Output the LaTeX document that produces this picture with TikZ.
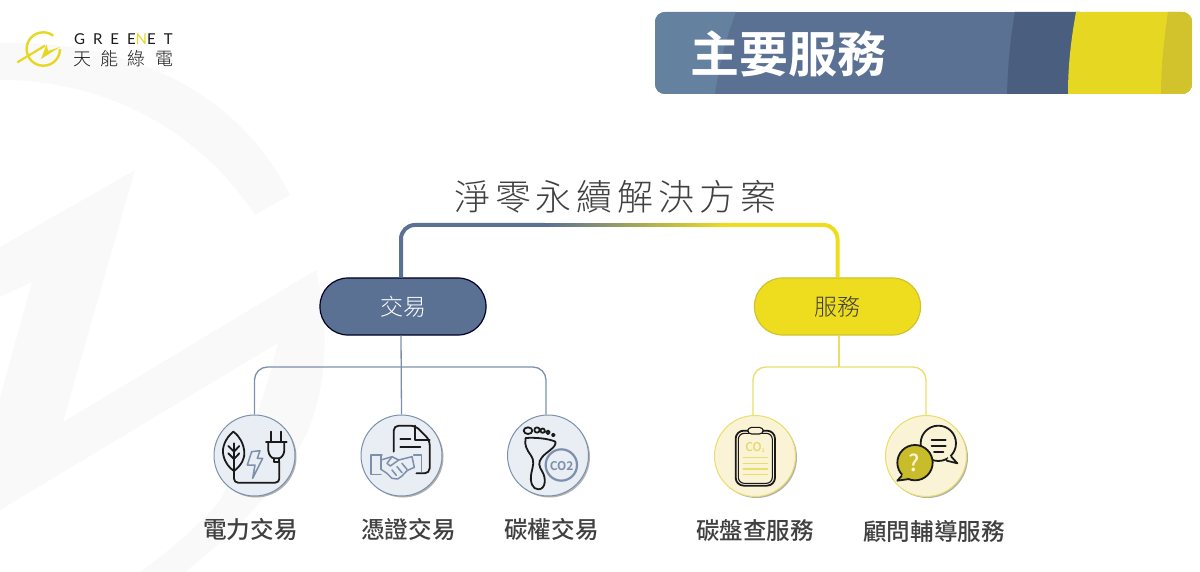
\documentclass[tikz,border=0pt]{standalone}
\usepackage{fontspec}
\setmainfont[UprightFont=* Medium,BoldFont=* Bold]{Noto Sans CJK TC}
\newfontfamily\lightcjk[UprightFont=* Light]{Noto Sans CJK TC}
\newfontfamily\spacedcjk[UprightFont=* Light,LetterSpace=13.5]{Noto Sans CJK TC}
\newfontfamily\logolatin[LetterSpace=53]{Lato}
\newfontfamily\logocjk[UprightFont=* Light,LetterSpace=52]{Noto Sans CJK TC}
\usetikzlibrary{shadows}
\definecolor{bluemain}{HTML}{5A7194}
\definecolor{bluelight}{HTML}{64819F}
\definecolor{bluedark}{HTML}{4A5F7F}
\definecolor{bluepale}{HTML}{E9EDF4}
\definecolor{blueedge}{HTML}{7D90AB}
\definecolor{yellowmain}{HTML}{E6D822}
\definecolor{yellowdark}{HTML}{D2C22C}
\definecolor{yellowpill}{HTML}{EEDD1F}
\definecolor{yellowpale}{HTML}{FBF3D5}
\definecolor{yellowedge}{HTML}{E8DE6A}
\definecolor{olive}{HTML}{C8BC2A}
\definecolor{ink}{HTML}{1A1A1A}
\definecolor{caption}{HTML}{404040}
\definecolor{watermark}{HTML}{F9F9F9}
\tikzset{
  pill/.style={rectangle,rounded corners=28pt,minimum width=166pt,minimum height=57pt,inner sep=0pt,font=\lightcjk\fontsize{23}{23}\selectfont},
  iconbase/.style={circle,minimum size=81pt,inner sep=0pt,line width=1pt,drop shadow={shadow xshift=1.5pt,shadow yshift=-1.5pt,fill=black,opacity=.3}},
  blueicon/.style={iconbase,draw=blueedge,fill=bluepale},
  yellowicon/.style={iconbase,draw=yellowedge,fill=yellowpale},
  caption/.style={text=caption,font=\fontsize{23.6}{24}\selectfont},
  icon/.style={draw=ink,line width=1.8pt,line cap=round,line join=round},
  iconblue/.style={draw=blueedge,line width=1.5pt,line cap=round,line join=round},
  iconyellow/.style={draw=yellowedge,line width=1.4pt,line cap=round},
  trunk/.style={line width=4pt,rounded corners=14pt},
  branch/.style={line width=1.3pt,rounded corners=13pt}
}
\begin{document}
\begin{tikzpicture}[x=1pt,y=-1pt]
  \useasboundingbox (0,0) rectangle (1200,572);
  % watermark
  \fill[watermark] (0,43) .. controls (120,40) and (235,85) .. (290,195) -- (255,215)
    .. controls (195,125) and (100,80) .. (0,80) -- cycle;
  \fill[watermark] (0,247) -- (135,170) -- (63,422) -- (316,270)
    .. controls (328,320) and (328,375) .. (312,420) .. controls (295,470) and (245,525) .. (185,572)
    -- (140,572) .. controls (170,550) and (200,525) .. (220,500) .. controls (245,455) and (265,395) .. (278,343)
    -- (0,510) -- (0,397) -- (32,282) -- (0,297) -- cycle;
  % logo
  \begin{scope}[shift={(10,25)},scale=1/3]
    \draw[yellowmain,line width=2.4pt] (150,72) .. controls (150,100) and (128,122) .. (100,122)
      .. controls (72,122) and (50,100) .. (50,72) .. controls (50,44) and (72,22) .. (100,22) .. controls (112,22) and (122,26) .. (130,32);
    \draw[yellowmain,line width=2.2pt] (22,112) -- (105,62);
    \fill[yellowmain] (110,58) -- (93,102) -- (150,66) -- (114,78) -- cycle;
  \end{scope}
  \node[anchor=west,inner sep=0pt,text=ink,font=\logolatin\fontsize{15}{15}\selectfont] (logoname) at (74,39)
    {GREE{\color{yellowmain}N}ET};
  \node[anchor=west,inner sep=0pt,text=ink,font=\logocjk\fontsize{18}{18}\selectfont] (logosub) at (73,59) {天能綠電};
  % banner
  \begin{scope}
    \clip[rounded corners=10pt] (655,12) rectangle (1192,94);
    \fill[bluemain] (655,12) rectangle (1192,94);
    \fill[bluelight] (655,12) -- (736,12) .. controls (725,40) and (718,70) .. (715,94) -- (655,94) -- cycle;
    \fill[bluedark] (1015,12) -- (1080,12) -- (1080,94) -- (1007,94) .. controls (1008,65) and (1010,40) .. (1015,12) -- cycle;
    \fill[yellowmain] (1076,12) -- (1192,12) -- (1192,94) -- (1068,94) .. controls (1068,65) and (1071,40) .. (1076,12) -- cycle;
    \fill[yellowdark] (1168,12) -- (1192,12) -- (1192,94) -- (1161,94) .. controls (1161,65) and (1164,40) .. (1168,12) -- cycle;
  \end{scope}
  \node[text=white,font=\bfseries\fontsize{49}{49}\selectfont,inner sep=0pt] (title) at (788.5,54) {主要服務};
  % top of the tree
  \node[anchor=west,text=caption,font=\spacedcjk\fontsize{36}{36}\selectfont,inner sep=0pt] (root) at (454,197) {淨零永續解決方案};
  \node[pill,fill=bluemain,draw=black!85!blue,line width=1.2pt,text=white] (trade) at (403,306.5) {交易};
  \node[pill,fill=yellowpill,draw=yellowdark,line width=1.2pt,text=caption] (service) at (837.5,306.5) {服務};
  \coordinate (gradL) at (545,225);
  \coordinate (gradR) at (730,225);
  \draw[trunk,bluemain] ([xshift=-2pt]trade.north) |- (gradL);
  \draw[trunk,yellowpill] (service.north) |- (gradR);
  \foreach \i in {0,...,36} {
    \pgfmathtruncatemacro\mix{100-\i*100/36}
    \draw[line width=4pt,bluemain!\mix!yellowpill] ([xshift=\i*5pt]gradL) -- ([xshift=\i*5pt+5pt]gradL);
  }
  % icons
  \node[blueicon] (power) at (254.5,455.5) {};
  \node[blueicon] (cert) at (401.5,455.5) {};
  \node[blueicon] (carbon) at (548,455.5) {};
  \node[yellowicon] (audit) at (755,456) {};
  \node[yellowicon] (consult) at (926,456) {};
  % branches
  \coordinate (tradebus) at (401,367);
  \coordinate (servicebus) at (839,367);
  \draw[branch,blueedge] (power.north) |- (tradebus);
  \draw[branch,blueedge] ([xshift=-2pt]carbon.north) |- (tradebus);
  \draw[blueedge,line width=1.3pt] ([xshift=-2pt]trade.south) -- (cert.north);
  \draw[yellowedge,line width=1.3pt] ([xshift=1.5pt]service.south) -- (servicebus);
  \draw[branch,yellowedge] ([xshift=-2pt]audit.north) |- (servicebus);
  \draw[branch,yellowedge] (consult.north) |- (servicebus);
  % plug and leaf
  \begin{scope}[shift={(210,410)},scale=1/3]
    \draw[icon] (70,65) .. controls (45,85) and (35,115) .. (40,135) .. controls (45,160) and (60,175) .. (72,183)
      .. controls (95,165) and (105,145) .. (103,125) .. controls (100,100) and (90,80) .. (70,65) -- cycle;
    \draw[icon] (72,100) -- (72,183) (55,108) -- (72,125) -- (88,108) (55,130) -- (72,147) -- (88,130);
    \draw[icon,rounded corners=4pt] (72,183) -- (72,218) -- (208,218) -- (208,155);
    \draw[icon] (184,65) -- (184,97) (214,65) -- (214,97) (168,97) -- (230,97);
    \draw[icon] (175,97) -- (175,122) .. controls (176,135) and (185,145) .. (192,145) -- (206,145)
      .. controls (213,145) and (222,135) .. (223,122) -- (223,97);
    \draw[icon] (192,145) -- (192,155) -- (206,155) -- (206,145);
    \draw[iconblue] (125,125) -- (150,122) -- (142,145) -- (158,145) -- (128,205) -- (135,165) -- (112,165) -- cycle;
  \end{scope}
  % document and handshake
  \begin{scope}[shift={(357,410)},scale=1/3]
    \draw[icon,rounded corners=5pt] (110,125) -- (110,47) -- (175,47) -- (218,90) -- (218,190) -- (178,190);
    \draw[icon] (175,47) -- (175,90) -- (218,90) (130,88) -- (160,88) (130,110) -- (190,110);
    \draw[iconblue] (75,135) -- (42,135) -- (42,193) -- (72,193) (170,135) -- (193,135) -- (193,185) (72,135) -- (72,178);
    \draw[iconblue] (72,150) -- (105,140) -- (125,150) -- (165,140) (172,172) -- (150,182) -- (135,198)
      -- (122,207) -- (105,205) -- (90,190) -- (72,178);
    \draw[iconblue] (125,150) -- (100,168) -- (90,160) -- (105,140)
      (105,180) -- (118,196) (120,170) -- (135,188) (135,160) -- (150,178) (165,140) -- (172,172);
  \end{scope}
  % footprint
  \begin{scope}[shift={(503,410)},scale=1/3]
    \draw[icon] (75,62) ellipse [x radius=13,y radius=10];
    \draw[icon] (102,60) circle [radius=8] (119,62) circle [radius=6.5] (135,67) circle [radius=5.5] (151,75) circle [radius=4];
    \draw[icon] (68,84) .. controls (95,82) and (135,85) .. (157,95) .. controls (162,112) and (130,125) .. (117,142)
      .. controls (104,157) and (108,170) .. (118,185) .. controls (130,205) and (128,237) .. (107,238)
      .. controls (88,239) and (80,215) .. (85,190) .. controls (90,165) and (96,155) .. (83,135)
      .. controls (72,120) and (63,105) .. (68,84) -- cycle;
    \draw[draw=blueedge,line width=2.2pt,fill=bluepale] (175,165) circle [radius=47];
    \node[text=blueedge,font=\bfseries\fontsize{12}{12}\selectfont,inner sep=0pt] (cotwo) at (176,168) {CO2};
  \end{scope}
  % clipboard
  \begin{scope}[shift={(680,400)},scale=1/3]
    \draw[icon,rounded corners=8pt] (167,92) rectangle (285,257);
    \draw[icon,line width=1.1pt,rounded corners=6pt] (175,100) rectangle (277,250);
    \draw[icon,line width=1.1pt,rounded corners=4pt,fill=yellowpale] (203,82) rectangle (250,102);
    \node[text=yellowedge!80!olive,font=\fontsize{12}{12}\selectfont,inner sep=0pt] (cotwob) at (225,143) {CO\raisebox{-1pt}{\fontsize{5}{5}\selectfont 2}};
    \draw[iconyellow] (190,172) -- (262,172) (190,190) -- (262,190) (190,207) -- (262,207) (190,223) -- (262,223);
  \end{scope}
  % speech bubbles
  \begin{scope}[shift={(880,410)},scale=1/3]
    \draw[icon,fill=yellowpale] (175,100) circle [radius=53];
    \draw[icon,fill=yellowpale] (212,138) -- (232,160) -- (200,152);
    \draw[draw=none,fill=yellowpale] (205,130) -- (212,140) -- (203,148) -- cycle;
    \draw[icon] (155,90) -- (197,90) (155,107) -- (197,107) (162,125) -- (190,125);
    \draw[icon,fill=olive] (105,158) circle [radius=53];
    \draw[icon,fill=olive] (68,194) -- (52,212) -- (88,207);
    \draw[draw=none,fill=olive] (70,188) -- (66,198) -- (90,205) -- cycle;
    \node[text=yellowpale,font=\fontsize{23}{23}\selectfont,inner sep=0pt] (question) at (103,158) {?};
  \end{scope}
  % captions
  \node[caption] (powerlabel) at (250.5,529) {電力交易};
  \node[caption] (certlabel) at (408.5,529) {憑證交易};
  \node[caption] (carbonlabel) at (551.5,529) {碳權交易};
  \node[caption] (auditlabel) at (755,531) {碳盤查服務};
  \node[caption] (consultlabel) at (934,531) {顧問輔導服務};
\end{tikzpicture}
\end{document}
